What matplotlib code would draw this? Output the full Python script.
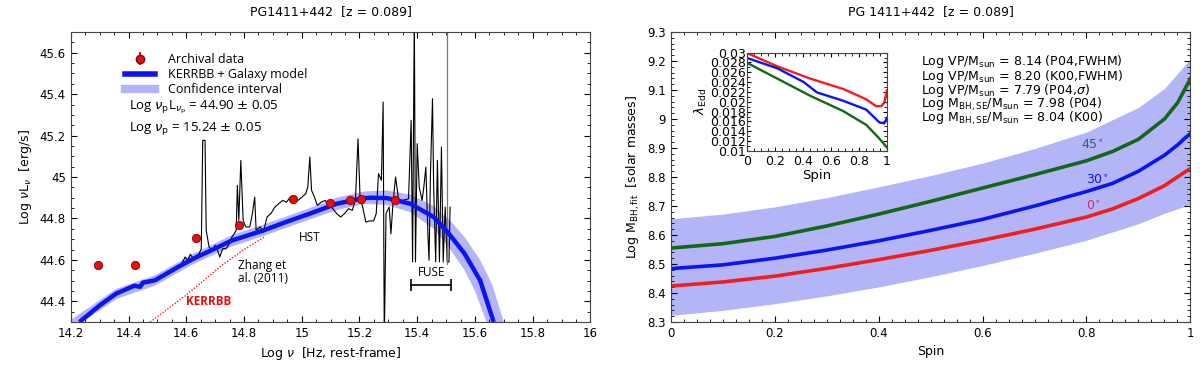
import matplotlib
matplotlib.use("Agg")
import matplotlib.pyplot as plt
from matplotlib.lines import Line2D
from matplotlib.ticker import MultipleLocator, FormatStrFormatter

# ---- left panel: SED of PG1411+442 ----
model_x = [14.23, 14.30, 14.357, 14.42, 14.44, 14.45, 14.491, 14.54, 14.572, 14.625,
           14.70, 14.759, 14.867, 14.95, 15.028, 15.121, 15.215, 15.24, 15.296, 15.376,
           15.457, 15.51, 15.564, 15.618, 15.665]
model_y = [44.30, 44.38, 44.437, 44.475, 44.47, 44.49, 44.501, 44.54, 44.566, 44.606,
           44.655, 44.694, 44.742, 44.785, 44.823, 44.871, 44.898, 44.90, 44.898, 44.871,
           44.807, 44.726, 44.63, 44.501, 44.30]

band_hi_x = [14.20, 14.357, 14.491, 14.625, 14.759, 14.867, 15.028, 15.121, 15.215, 15.296,
             15.376, 15.457, 15.51, 15.564, 15.618, 15.66, 15.70]
band_hi_y = [44.31, 44.46, 44.525, 44.63, 44.72, 44.77, 44.85, 44.90, 44.93, 44.935,
             44.915, 44.86, 44.795, 44.71, 44.60, 44.48, 44.30]
band_lo_x = [14.22, 14.357, 14.491, 14.625, 14.759, 14.867, 15.028, 15.121, 15.215, 15.296,
             15.376, 15.457, 15.51, 15.564, 15.60, 15.64]
band_lo_y = [44.28, 44.41, 44.475, 44.58, 44.665, 44.715, 44.795, 44.84, 44.87, 44.865,
             44.83, 44.75, 44.66, 44.55, 44.45, 44.30]

kerrbb_x = [14.475, 14.60, 14.72, 14.80, 14.87]
kerrbb_y = [44.30, 44.43, 44.57, 44.65, 44.71]

arch_x = [14.294, 14.424, 14.632, 14.782, 14.97, 15.099, 15.166, 15.206, 15.322]
arch_y = [44.573, 44.573, 44.707, 44.77, 44.894, 44.873, 44.890, 44.894, 44.888]
arch_err = [0.01, 0.01, 0.01, 0.01, 0.01, 0.01, 0.01, 0.01, 0.01]

spec_x = [14.585, 14.596, 14.605, 14.614, 14.625, 14.636, 14.645, 14.652, 14.657, 14.665,
          14.669, 14.679, 14.690, 14.700, 14.708, 14.716, 14.726, 14.737, 14.746, 14.757,
          14.766, 14.773, 14.777, 14.782, 14.789, 14.797, 14.806, 14.820, 14.829, 14.837,
          14.842, 14.856, 14.867, 14.880, 14.893, 14.907, 14.920, 14.934, 14.947, 14.961,
          14.974, 14.987, 15.001, 15.014, 15.021, 15.028, 15.034, 15.044, 15.054, 15.068,
          15.081, 15.095, 15.108, 15.121, 15.135, 15.148, 15.162, 15.175, 15.186, 15.195,
          15.202, 15.211, 15.222, 15.235, 15.249, 15.258, 15.266, 15.276, 15.282, 15.286,
          15.292, 15.303, 15.309, 15.316, 15.325, 15.336, 15.350, 15.370, 15.379, 15.384,
          15.390, 15.394, 15.400, 15.407, 15.417, 15.423, 15.430, 15.437, 15.441, 15.446,
          15.453, 15.457, 15.464, 15.470, 15.477, 15.484, 15.490, 15.497, 15.504, 15.510,
          15.514]
spec_y = [44.582, 44.614, 44.598, 44.627, 44.606, 44.622, 44.630, 44.654, 45.177, 45.177,
          44.743, 44.662, 44.646, 44.670, 44.649, 44.614, 44.654, 44.654, 44.670, 44.707,
          44.726, 44.743, 44.960, 44.791, 45.080, 44.791, 44.759, 44.759, 44.823, 44.903,
          44.743, 44.759, 44.734, 44.807, 44.823, 44.855, 44.871, 44.887, 44.879, 44.903,
          44.895, 44.887, 44.903, 44.920, 44.952, 45.097, 44.936, 44.903, 44.863, 44.879,
          44.887, 44.863, 44.847, 44.823, 44.807, 44.823, 44.847, 44.839, 44.887, 45.185,
          44.903, 44.855, 44.783, 44.788, 44.788, 44.823, 45.016, 44.984, 45.362, 44.20,
          44.823, 44.855, 44.726, 44.871, 45.000, 44.887, 44.887, 44.895, 45.274, 44.590,
          45.80, 44.590, 45.161, 44.952, 44.887, 44.952, 45.048, 44.726, 44.598, 45.016,
          45.378, 44.952, 44.590, 45.080, 44.590, 45.145, 44.590, 44.855, 44.590, 44.590,
          44.855]
gray_line_x = [15.504, 15.504]
gray_line_y = [44.58, 45.80]

# ---- right panel: black hole mass vs spin ----
spin = [0, 0.1, 0.2, 0.3, 0.4, 0.5, 0.6, 0.7, 0.8, 0.85, 0.9, 0.95, 0.975, 0.99, 1.0]
mass_45 = [8.555, 8.570, 8.595, 8.631, 8.672, 8.716, 8.762, 8.808, 8.856, 8.888, 8.930,
           9.000, 9.055, 9.105, 9.139]
mass_30 = [8.484, 8.497, 8.520, 8.548, 8.580, 8.616, 8.654, 8.700, 8.750, 8.778, 8.820,
           8.875, 8.910, 8.935, 8.949]
mass_0 = [8.424, 8.438, 8.458, 8.485, 8.515, 8.547, 8.582, 8.620, 8.662, 8.690, 8.726,
          8.770, 8.800, 8.818, 8.829]
band_spin = [0, 0.1, 0.2, 0.3, 0.4, 0.5, 0.6, 0.7, 0.8, 0.9, 0.95, 1.0]
mass_hi = [8.656, 8.672, 8.697, 8.729, 8.766, 8.805, 8.848, 8.898, 8.955, 9.040, 9.105, 9.208]
mass_lo = [8.323, 8.340, 8.363, 8.390, 8.421, 8.456, 8.495, 8.537, 8.582, 8.639, 8.675, 8.705]

# inset: Eddington ratio vs spin
edd_spin = [0, 0.216, 0.452, 0.687, 0.852, 0.922, 0.958, 0.981, 1.0]
edd_0 = [0.0299, 0.0272, 0.0247, 0.0226, 0.0205, 0.0191, 0.0191, 0.0198, 0.0223]
edd_spin_30 = [0, 0.216, 0.405, 0.499, 0.687, 0.852, 0.946, 0.981, 1.0]
edd_30 = [0.0289, 0.0268, 0.0240, 0.0219, 0.0202, 0.0184, 0.0158, 0.0156, 0.0167]
edd_spin_45 = [0, 0.216, 0.452, 0.687, 0.852, 0.946, 1.0]
edd_45 = [0.0279, 0.0247, 0.0212, 0.0181, 0.0153, 0.0125, 0.0107]

mass_notes = [
    r"Log VP/M$_\mathrm{sun}$ = 8.14 (P04,FWHM)",
    r"Log VP/M$_\mathrm{sun}$ = 8.20 (K00,FWHM)",
    r"Log VP/M$_\mathrm{sun}$ = 7.79 (P04,$\sigma$)",
    r"Log M$_\mathrm{BH,SE}$/M$_\mathrm{sun}$ = 7.98 (P04)",
    r"Log M$_\mathrm{BH,SE}$/M$_\mathrm{sun}$ = 8.04 (K00)",
]

BLUE = "#0a14f5"
BAND = "#b3b5f7"
GREEN = "#16661a"
RED = "#f01e1e"
SANS = ["Open Sans", "DejaVu Sans"]


def style_axis(ax, size=8.5):
    ax.tick_params(which="both", direction="in", top=True, right=True, labelsize=size)
    ax.tick_params(which="major", length=4)
    ax.tick_params(which="minor", length=2)
    for s in ax.spines.values():
        s.set_color("#444444")


fig = plt.figure(figsize=(12, 3.68), dpi=100)

# ---------- left ----------
ax = fig.add_axes([0.059, 0.125, 0.433, 0.788])
ax.fill(band_hi_x + band_lo_x[::-1], band_hi_y + band_lo_y[::-1],
        color=BAND, lw=0, zorder=1)
ax.plot(spec_x, spec_y, color="black", lw=0.8, zorder=2)
ax.plot(gray_line_x, gray_line_y, color="#777777", lw=0.9, zorder=2)
ax.plot(model_x, model_y, color=BLUE, lw=3.2, zorder=3, solid_capstyle="butt")
ax.plot(kerrbb_x, kerrbb_y, color=RED, lw=1.0, ls=(0, (1, 1.2)), zorder=3)
ax.errorbar(arch_x, arch_y, yerr=arch_err, fmt="o", ms=6, color="#e01010",
            mec="#8b0000", mew=0.6, ecolor="#e01010", capsize=2, zorder=4)

ax.set_xlim(14.2, 16)
ax.set_ylim(44.3, 45.7)
ax.xaxis.set_major_locator(MultipleLocator(0.2))
ax.xaxis.set_minor_locator(MultipleLocator(0.05))
ax.yaxis.set_major_locator(MultipleLocator(0.2))
ax.yaxis.set_minor_locator(MultipleLocator(0.05))
ax.xaxis.set_major_formatter(FormatStrFormatter("%g"))
ax.yaxis.set_major_formatter(FormatStrFormatter("%g"))
style_axis(ax)
ax.set_xlabel(r"Log $\nu$  [Hz, rest-frame]", fontsize=9)
ax.set_ylabel(r"Log $\nu$L$_\nu$  [erg/s]", fontsize=9)
ax.set_title("PG1411+442  [z = 0.089]", fontsize=9, pad=12)

handles = [
    ax.errorbar([], [], yerr=[], fmt="o", ms=6, color="#e01010", mec="#8b0000",
                ecolor="#e01010", capsize=2),
    Line2D([], [], color=BLUE, lw=4),
    Line2D([], [], color=BAND, lw=6),
]
ax.legend(handles, ["Archival data", "KERRBB + Galaxy model", "Confidence interval"],
          loc="upper left", bbox_to_anchor=(0.095, 0.945), frameon=False,
          prop={"family": SANS, "size": 9}, handlelength=2.4, labelspacing=0.18,
          handletextpad=1.0, borderaxespad=0)
ax.text(0.112, 0.74, r"Log $\nu_\mathrm{p}$L$_{\nu_\mathrm{p}}$ = 44.90 $\pm$ 0.05",
        transform=ax.transAxes, fontsize=9.5, family=SANS, va="center")
ax.text(0.112, 0.668, r"Log $\nu_\mathrm{p}$ = 15.24 $\pm$ 0.05",
        transform=ax.transAxes, fontsize=9.5, family=SANS, va="center")
ax.text(14.78, 44.575, "Zhang et", fontsize=8.5, family=SANS, va="center")
ax.text(14.78, 44.51, "al. (2011)", fontsize=8.5, family=SANS, va="center")
ax.text(14.6, 44.40, "KERRBB", fontsize=8.5, family=SANS, color="#e01010",
        weight="bold", va="center")
ax.text(14.99, 44.71, "HST", fontsize=8.5, family=SANS, va="center")
ax.text(15.45, 44.54, "FUSE", fontsize=8.5, family=SANS, va="center", ha="center")
ax.plot([15.379, 15.517], [44.477, 44.477], color="black", lw=1.2,
        marker="|", ms=8, mew=1.2)

# ---------- right ----------
ax2 = fig.add_axes([0.559, 0.125, 0.433, 0.788])
ax2.fill_between(band_spin, mass_lo, mass_hi, color=BAND, lw=0)
ax2.plot(spin, mass_45, color=GREEN, lw=2.6)
ax2.plot(spin, mass_30, color=BLUE, lw=2.6)
ax2.plot(spin, mass_0, color=RED, lw=2.6)
ax2.set_xlim(0, 1)
ax2.set_ylim(8.3, 9.3)
ax2.xaxis.set_major_locator(MultipleLocator(0.2))
ax2.xaxis.set_minor_locator(MultipleLocator(0.025))
ax2.yaxis.set_major_locator(MultipleLocator(0.1))
ax2.yaxis.set_minor_locator(MultipleLocator(0.02))
ax2.xaxis.set_major_formatter(FormatStrFormatter("%g"))
ax2.yaxis.set_major_formatter(FormatStrFormatter("%g"))
style_axis(ax2)
ax2.set_xlabel("Spin", fontsize=9)
ax2.set_ylabel(r"Log M$_\mathrm{BH,fit}$  [solar masses]", fontsize=9)
ax2.set_title("PG 1411+442  [z = 0.089]", fontsize=9, pad=12)
ax2.text(0.79, 8.895, r"45$^{\circ}$", color="#2b5b78", fontsize=9)
ax2.text(0.80, 8.775, r"30$^{\circ}$", color=BLUE, fontsize=9)
ax2.text(0.80, 8.685, r"0$^{\circ}$", color="#c03070", fontsize=9)
for i, note in enumerate(mass_notes):
    ax2.text(0.481, 0.897 - i * 0.049, note, transform=ax2.transAxes,
             fontsize=9, va="center")

# inset
ins = ax2.inset_axes([0.147, 0.59, 0.269, 0.339])
ins.plot(edd_spin, edd_0, color=RED, lw=1.7)
ins.plot(edd_spin_30, edd_30, color=BLUE, lw=1.7)
ins.plot(edd_spin_45, edd_45, color=GREEN, lw=1.7)
ins.set_xlim(0, 1)
ins.set_ylim(0.01, 0.03)
ins.xaxis.set_major_locator(MultipleLocator(0.2))
ins.xaxis.set_minor_locator(MultipleLocator(0.05))
ins.yaxis.set_major_locator(MultipleLocator(0.002))
ins.yaxis.set_minor_locator(MultipleLocator(0.001))
ins.xaxis.set_major_formatter(FormatStrFormatter("%g"))
ins.yaxis.set_major_formatter(FormatStrFormatter("%g"))
style_axis(ins, size=9)
ins.tick_params(which="major", length=3, pad=1)
ins.tick_params(axis="x", pad=3)
ins.set_xlabel("Spin", fontsize=9.5, labelpad=1)
ins.set_ylabel(r"$\lambda_\mathrm{Edd}$", fontsize=9.5, labelpad=1)

fig.savefig("out.png", dpi=100)
